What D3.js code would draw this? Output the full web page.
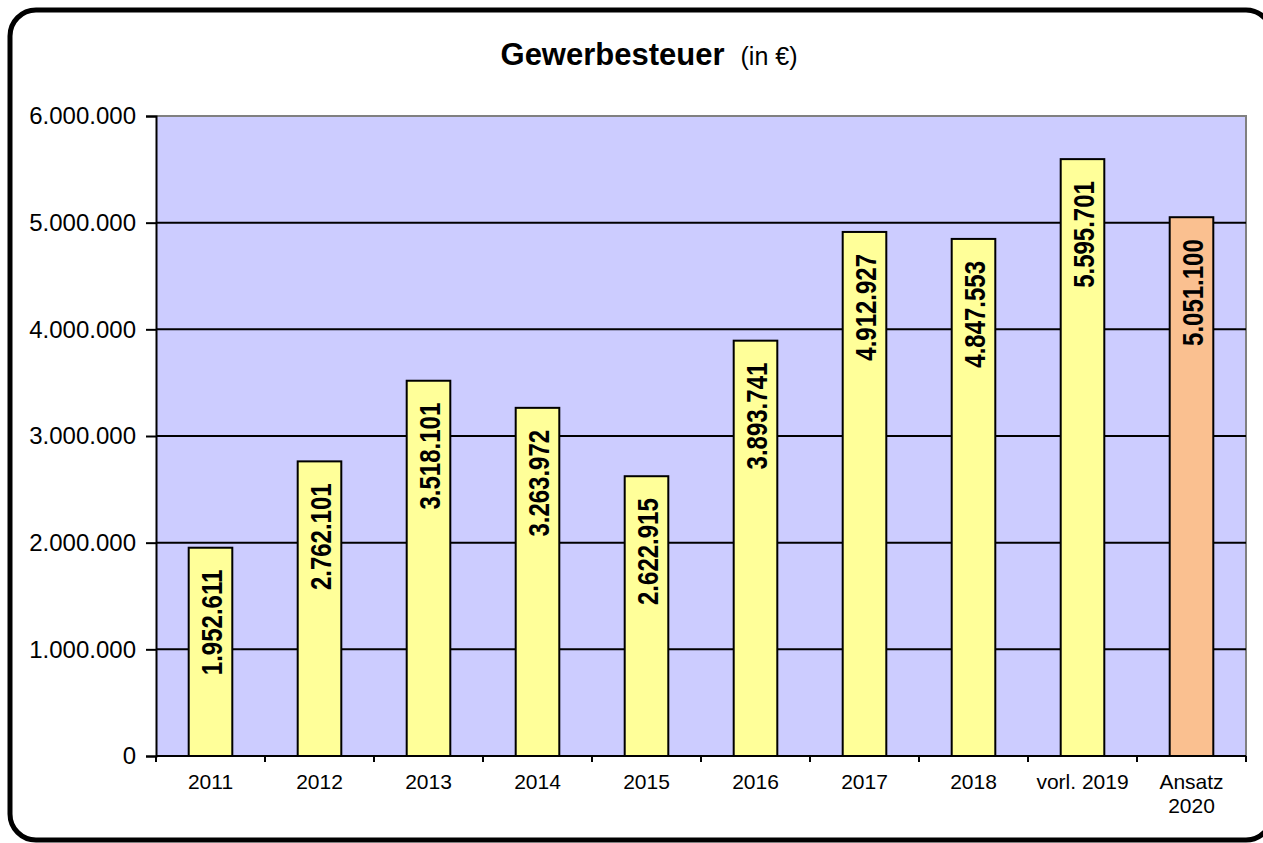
<!DOCTYPE html>
<html>
<head>
<meta charset="utf-8">
<script src="https://cdn.jsdelivr.net/npm/d3@7"></script>
<style>
  body { margin: 0; background: #fff; overflow: hidden; }
  text { font-family: Arial, "Liberation Sans", sans-serif; }
</style>
</head>
<body>
<div id="chart"></div>
<script>
// data
const categories = ["2011", "2012", "2013", "2014", "2015", "2016", "2017", "2018", "vorl. 2019", "Ansatz 2020"];
const values = [1952611, 2762101, 3518101, 3263972, 2622915, 3893741, 4912927, 4847553, 5595701, 5051100];
const yTicks = [0, 1000000, 2000000, 3000000, 4000000, 5000000, 6000000];

const W = 1263, H = 843;
const plot = { left: 156, right: 1246, top: 116, bottom: 756 };

const svg = d3.select("#chart").append("svg")
    .attr("width", W)
    .attr("height", H);

// outer frame (runs slightly past the right edge like the original)
svg.append("rect")
    .attr("x", 10).attr("y", 10)
    .attr("width", 1262).attr("height", 830)
    .attr("rx", 26).attr("ry", 26)
    .attr("fill", "#fff")
    .attr("stroke", "#000")
    .attr("stroke-width", 5);

// title
const title = svg.append("text")
    .attr("x", 649)
    .attr("y", 65)
    .attr("text-anchor", "middle");
title.append("tspan").attr("font-weight", "bold").attr("font-size", 31).text("Gewerbesteuer");
title.append("tspan").attr("font-size", 25).attr("dx", 16).text("(in €)");

// scales
const x = d3.scaleBand()
    .domain(categories)
    .range([plot.left, plot.right])
    .paddingInner(0.6)
    .paddingOuter(0.3);

const y = d3.scaleLinear()
    .domain([0, 6000000])
    .range([plot.bottom, plot.top]);

const fmt = d3.formatLocale({ decimal: ",", thousands: ".", grouping: [3], currency: ["", "€"] }).format(",d");

// plot background
svg.append("rect")
    .attr("x", plot.left).attr("y", plot.top)
    .attr("width", plot.right - plot.left)
    .attr("height", plot.bottom - plot.top)
    .attr("fill", "#CCCCFF");

// top and right border (grey)
svg.append("path")
    .attr("d", `M${plot.left},${plot.top}H${plot.right}V${plot.bottom}`)
    .attr("fill", "none")
    .attr("stroke", "#808080")
    .attr("stroke-width", 2);

// gridlines
svg.append("g")
    .selectAll("line")
    .data(yTicks.filter(d => d > 0 && d < 6000000))
    .join("line")
    .attr("x1", plot.left).attr("x2", plot.right)
    .attr("y1", d => y(d)).attr("y2", d => y(d))
    .attr("stroke", "#000")
    .attr("stroke-width", 2);

// bars
svg.append("g")
    .selectAll("rect")
    .data(values)
    .join("rect")
    .attr("x", (d, i) => x(categories[i]))
    .attr("y", d => y(d))
    .attr("width", x.bandwidth())
    .attr("height", d => y(0) - y(d))
    .attr("fill", (d, i) => i === values.length - 1 ? "#FAC090" : "#FFFF99")
    .attr("stroke", "#000")
    .attr("stroke-width", 2);

// bar labels
svg.append("g")
    .selectAll("text")
    .data(values)
    .join("text")
    .attr("transform", (d, i) => `translate(${x(categories[i]) + x.bandwidth() / 2 + 1},${y(d) + 22}) rotate(-90) scale(1,1.2)`)
    .attr("text-anchor", "end")
    .attr("dy", "0.36em")
    .attr("font-size", 24)
    .attr("font-weight", "bold")
    .text(d => fmt(d));

// y axis
const yAxis = svg.append("g")
    .attr("transform", `translate(${plot.left},0)`)
    .call(d3.axisLeft(y).tickValues(yTicks).tickFormat(fmt).tickSize(10).tickPadding(10));
yAxis.select(".domain").attr("stroke", "#000").attr("stroke-width", 2);
yAxis.selectAll(".tick line").attr("stroke-width", 2);
yAxis.selectAll("text").attr("font-size", 24).attr("fill", "#000").attr("font-family", "Arial, 'Liberation Sans', sans-serif");

// x axis
const xBoundaries = d3.range(categories.length + 1).map(i => plot.left + i * x.step());
const xAxis = svg.append("g")
    .attr("transform", `translate(0,${plot.bottom})`);
xAxis.append("line")
    .attr("x1", plot.left).attr("x2", plot.right)
    .attr("stroke", "#000").attr("stroke-width", 2);
xAxis.selectAll(".tk")
    .data(xBoundaries)
    .join("line")
    .attr("class", "tk")
    .attr("x1", d => d).attr("x2", d => d)
    .attr("y1", 0).attr("y2", 6)
    .attr("stroke", "#000").attr("stroke-width", 2);
xAxis.selectAll(".lbl")
    .data(categories)
    .join("text")
    .attr("class", "lbl")
    .attr("x", d => x(d) + x.bandwidth() / 2)
    .attr("y", 33)
    .attr("text-anchor", "middle")
    .attr("font-size", 21)
    .each(function (d) {
        const el = d3.select(this);
        const parts = d.startsWith("Ansatz") ? d.split(" ") : [d];
        parts.forEach((p, k) => {
            el.append("tspan")
                .attr("x", x(d) + x.bandwidth() / 2)
                .attr("dy", k === 0 ? 0 : 24)
                .text(p);
        });
    });
</script>
</body>
</html>
